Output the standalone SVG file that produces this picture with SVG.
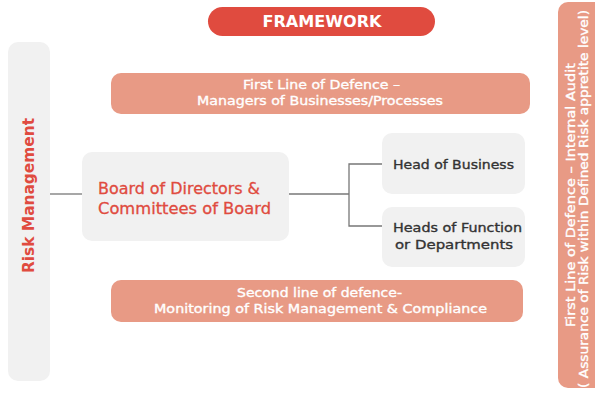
<svg xmlns="http://www.w3.org/2000/svg" width="595" height="397" viewBox="0 0 595 397">
<style>
text{font-family:"DejaVu Sans","Liberation Sans",sans-serif;}
.grey{fill:#f1f1f1;}
.salmon{fill:#e89a85;}
.w{fill:#ffffff;stroke:#ffffff;stroke-width:0.35;font-size:12.5px;text-anchor:middle;}
.d{fill:#333333;stroke:#333333;stroke-width:0.35;font-size:12.5px;text-anchor:middle;}
.r{fill:#e04b3f;}
.rs{stroke:#e04b3f;stroke-width:0.3;}
.conn{stroke:#777777;stroke-width:1.3;fill:none;}
</style>
<g id="framework">
<rect x="208" y="7" width="227" height="29" rx="14.5" fill="#e04b3f"/>
<text x="322" y="27" class="w" style="font-size:15px;font-weight:700;stroke-width:0" textLength="119" lengthAdjust="spacingAndGlyphs">FRAMEWORK</text>
</g>
<g id="risk-management">
<rect x="8" y="42" width="42" height="339" rx="10" class="grey"/>
<text transform="translate(34,195.5) rotate(-90)" class="r" style="font-size:15px;font-weight:700;text-anchor:middle" textLength="155" lengthAdjust="spacingAndGlyphs">Risk Management</text>
</g>
<g id="internal-audit">
<rect x="558" y="2" width="48" height="386" rx="10" class="salmon"/>
<text transform="translate(575,195) rotate(-90)" class="w" textLength="264" lengthAdjust="spacingAndGlyphs">First Line of Defence – Internal Audit</text>
<text transform="translate(588,199) rotate(-90)" class="w" textLength="378" lengthAdjust="spacingAndGlyphs">( Assurance of Risk within Defined Risk appretite level)</text>
</g>
<g id="first-line">
<rect x="111" y="73" width="419" height="41" rx="10" class="salmon"/>
<text x="321.5" y="89" class="w" textLength="157" lengthAdjust="spacingAndGlyphs">First Line of Defence –</text>
<text x="320" y="105" class="w" textLength="246" lengthAdjust="spacingAndGlyphs">Managers of Businesses/Processes</text>
</g>
<g id="board">
<rect x="82" y="152" width="207" height="89" rx="10" class="grey"/>
<text x="98" y="194" class="r rs" style="font-size:15px" textLength="162" lengthAdjust="spacingAndGlyphs">Board of Directors &amp;</text>
<text x="98" y="214" class="r rs" style="font-size:15px" textLength="173" lengthAdjust="spacingAndGlyphs">Committees of Board</text>
</g>
<g id="head-business">
<rect x="382" y="133" width="143" height="61" rx="10" class="grey"/>
<text x="453.5" y="169" class="d" textLength="121" lengthAdjust="spacingAndGlyphs">Head of Business</text>
</g>
<g id="heads-function">
<rect x="382" y="207" width="143" height="60" rx="10" class="grey"/>
<text x="457.5" y="232" class="d" textLength="129" lengthAdjust="spacingAndGlyphs">Heads of Function</text>
<text x="454" y="249" class="d" textLength="118" lengthAdjust="spacingAndGlyphs">or Departments</text>
</g>
<g id="second-line">
<rect x="111" y="280" width="412" height="42" rx="10" class="salmon"/>
<text x="319.5" y="297" class="w" textLength="165" lengthAdjust="spacingAndGlyphs">Second line of defence-</text>
<text x="320.5" y="313" class="w" textLength="333" lengthAdjust="spacingAndGlyphs">Monitoring of Risk Management &amp; Compliance</text>
</g>
<g id="connectors">
<line x1="50" y1="194" x2="82" y2="194" class="conn"/>
<line x1="289" y1="194" x2="349" y2="194" class="conn"/>
<polyline points="382,164 349,164 349,226 382,226" class="conn"/>
</g>
</svg>
